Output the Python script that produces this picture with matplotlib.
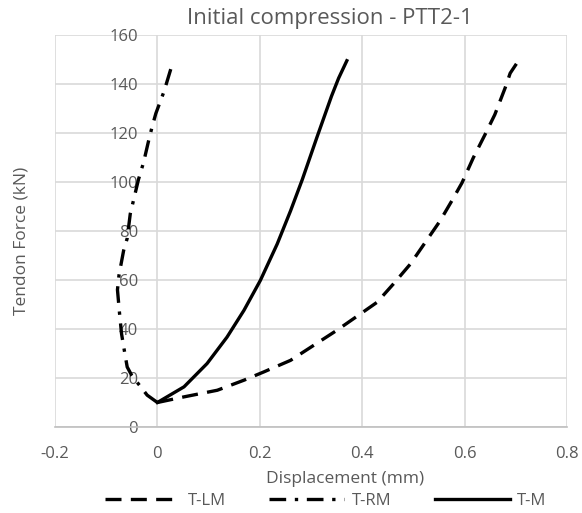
import matplotlib.pyplot as plt
import numpy as np

plt.rcParams['font.family'] = ['Open Sans', 'DejaVu Sans']

# T-LM (dashed)
lm_x = [0, 0.052, 0.117, 0.169, 0.208, 0.26, 0.305, 0.35, 0.392, 0.429, 0.461, 0.494,
        0.523, 0.552, 0.575, 0.595, 0.617, 0.64, 0.659, 0.679, 0.689, 0.702]
lm_y = [10, 12.3, 15, 19.1, 22.5, 27.2, 33.3, 39.4, 45.5, 50.9, 58.4, 66.5,
        75.3, 84.1, 92.3, 99.7, 109.9, 119.4, 127.5, 138.3, 144.4, 148.5]

# T-RM (dash-dot)
rm_x = [0, -0.02, -0.033, -0.05, -0.059, -0.064, -0.07, -0.074, -0.078, -0.075, -0.066,
        -0.059, -0.053, -0.037, -0.027, -0.017, -0.01, -0.003, 0.013, 0.026, 0.029]
rm_y = [10, 13, 16.5, 21, 24.5, 30.5, 38, 46.5, 56, 62, 72,
        77, 87, 101, 108, 117, 122.8, 128, 137, 146, 148]

# T-M (solid)
m_x = [0, 0.052, 0.097, 0.136, 0.169, 0.201, 0.234, 0.26, 0.283, 0.312, 0.34, 0.354, 0.37]
m_y = [10, 16.4, 25.9, 36.7, 47.6, 59.8, 74.7, 88.2, 101, 118.5, 135, 142.4, 149.5]

x_ticks = [-0.2, 0, 0.2, 0.4, 0.6, 0.8]
x_labels = ['-0.2', '0', '0.2', '0.4', '0.6', '0.8']
y_ticks = [0, 20, 40, 60, 80, 100, 120, 140, 160]

text_col = '#595959'
grid_col = '#d9d9d9'

fig = plt.figure(figsize=(5.82, 5.13), dpi=100)
ax = fig.add_axes([55 / 582, 1 - 427 / 513, 512 / 582, 392 / 513])

lw = 2.4
ax.plot(lm_x, lm_y, color='black', lw=lw, linestyle=(0, (4.8, 2.8)), label='T-LM')
ax.plot(rm_x, rm_y, color='black', lw=lw, linestyle=(0, (5, 2.6, 1, 2.6)), label='T-RM')
ax.plot(m_x, m_y, color='black', lw=lw, linestyle='-', label='T-M')

ax.set_xlim(-0.2, 0.8)
ax.set_ylim(0, 160)
ax.set_xticks(x_ticks)
ax.set_yticks(y_ticks)
ax.set_xticklabels(x_labels)
ax.grid(True, color=grid_col, lw=1.2)
ax.set_axisbelow(True)

for s in ['top', 'right', 'left']:
    ax.spines[s].set_visible(False)
ax.spines['left'].set_position(('data', 0))
ax.spines['bottom'].set_color('#bfbfbf')
ax.spines['bottom'].set_linewidth(1.2)

ax.tick_params(axis='both', length=0, labelsize=12, labelcolor=text_col)
ax.tick_params(axis='y', pad=14)
ax.tick_params(axis='x', pad=14)

fig.text(330 / 582, 1 - 19 / 513, 'Initial compression - PTT2-1', ha='center', va='center',
         fontsize=16, color=text_col)
fig.text(345 / 582, 1 - 479 / 513, 'Displacement (mm)', ha='center', va='center',
         fontsize=12.5, color=text_col)
fig.text(22 / 582, 1 - 241 / 513, 'Tendon Force (kN)', ha='center', va='center',
         rotation=90, fontsize=12.5, color=text_col)

leg = fig.legend(loc='center', bbox_to_anchor=(326 / 582, 1 - 501 / 513), ncol=3,
                 frameon=False, fontsize=12, handlelength=4.5, columnspacing=2.6,
                 handletextpad=0.45, borderaxespad=0)
for t in leg.get_texts():
    t.set_color(text_col)

fig.savefig('out.png', dpi=100)
